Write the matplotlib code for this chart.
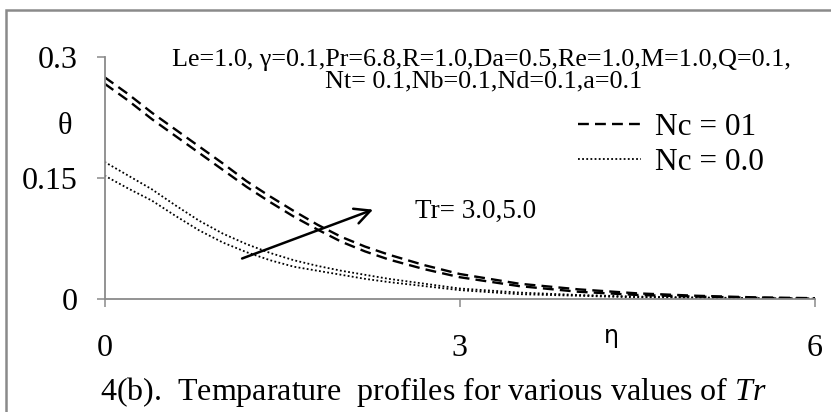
import matplotlib
matplotlib.use("Agg")
import matplotlib.pyplot as plt
from matplotlib.patches import Rectangle

plt.rcParams['font.family'] = ['Liberation Serif', 'DejaVu Serif']
plt.rcParams['mathtext.fontset'] = 'custom'
plt.rcParams['mathtext.rm'] = 'Liberation Serif'
plt.rcParams['mathtext.it'] = 'Liberation Serif:italic'

# data
eta = [0.0, 0.2, 0.4, 0.6, 0.8, 1.0, 1.2, 1.4, 1.6, 1.8, 2.0, 2.2, 2.4, 2.7, 3.0, 3.5, 4.0, 4.5, 5.0, 5.5, 6.0]
theta_nc1_tr5 = [0.275, 0.254, 0.231, 0.210, 0.189, 0.168, 0.146, 0.127, 0.109, 0.092, 0.077,
                 0.065, 0.055, 0.042, 0.031, 0.019, 0.012, 0.007, 0.004, 0.002, 0.001]
theta_nc1_tr3 = [0.267, 0.246, 0.223, 0.202, 0.181, 0.160, 0.139, 0.120, 0.102, 0.086, 0.071,
                 0.059, 0.049, 0.037, 0.027, 0.016, 0.009, 0.005, 0.003, 0.0015, 0.0005]
theta_nc0_tr5 = [0.170, 0.153, 0.136, 0.116, 0.097, 0.081, 0.068, 0.057, 0.048, 0.041, 0.035,
                 0.030, 0.025, 0.019, 0.013, 0.008, 0.005, 0.003, 0.002, 0.001, 0.0005]
theta_nc0_tr3 = [0.153, 0.137, 0.122, 0.103, 0.085, 0.070, 0.058, 0.048, 0.040, 0.035, 0.030,
                 0.025, 0.021, 0.016, 0.011, 0.006, 0.004, 0.002, 0.001, 0.0005, 0.0]

xticks = [0, 3, 6]
yticks = [0, 0.15, 0.3]
yticklabels = ['0', '0.15', '0.3']

W, H = 831, 412
fig = plt.figure(figsize=(W / 100, H / 100), dpi=100)
ax = fig.add_axes([104.5 / W, 1 - 299 / H, (815 - 104.5) / W, (299 - 57) / H])

gray = '#8a8a8a'
# outer border
fig.patches.append(Rectangle((6 / W, -0.2), 1.2, 1.2 - 10 / H, transform=fig.transFigure,
                             fill=False, edgecolor=gray, lw=1.8, clip_on=False))

l1, = ax.plot(eta, theta_nc1_tr5, color='black', lw=1.7, dashes=(4.6, 2.6), label='Nc = 01')
ax.plot(eta, theta_nc1_tr3, color='black', lw=1.7, dashes=(4.6, 2.6))
l2, = ax.plot(eta, theta_nc0_tr5, color='black', lw=1.3, dashes=(1, 1.3), label='Nc = 0.0')
ax.plot(eta, theta_nc0_tr3, color='black', lw=1.3, dashes=(1, 1.3))

ax.set_xlim(0, 6)
ax.set_ylim(0, 0.3)
ax.set_xticks(xticks)
ax.set_xticklabels([str(v) for v in xticks])
ax.set_yticks(yticks)
ax.set_yticklabels(yticklabels)
for s in ['top', 'right']:
    ax.spines[s].set_visible(False)
for s in ['left', 'bottom']:
    ax.spines[s].set_color(gray)
    ax.spines[s].set_linewidth(1.3)
ax.tick_params(direction='out', length=6, width=1.1, color=gray, labelsize=23)
ax.tick_params(axis='y', pad=13)
ax.tick_params(axis='x', pad=19)

ax.annotate('', xy=(2.29, 0.112), xytext=(1.14, 0.049),
            arrowprops=dict(arrowstyle='->', lw=1.8, color='black', mutation_scale=28))
ax.text(2.62, 0.109, 'Tr= 3.0,5.0', fontsize=19.5, va='center', ha='left')

fig.text(481 / W, 1 - 60 / H, 'Le=1.0, \u03b3=0.1,Pr=6.8,R=1.0,Da=0.5,Re=1.0,M=1.0,Q=0.1,',
         fontsize=18.8, ha='center', va='center')
fig.text(484 / W, 1 - 81 / H, 'Nt= 0.1,Nb=0.1,Nd=0.1,a=0.1',
         fontsize=18.8, ha='center', va='center')

fig.text(65 / W, 1 - 126 / H, '\u03b8', fontsize=22, ha='center', va='center')
fig.text(611 / W, 1 - 336 / H, '\u03b7', fontsize=17, ha='center', va='center',
         family=['DejaVu Sans'])

fig.text(100 / W, 1 - 392 / H,
         '4(b).  Temparature  profiles for various values of $\\mathit{Tr}$',
         fontsize=23, ha='left', va='center')

ax.legend(handles=[l1, l2], loc='upper left', bbox_to_anchor=(578 / W, 1 - 113 / H),
          bbox_transform=fig.transFigure, frameon=False, fontsize=22.5,
          handlelength=2.0, handletextpad=0.45, labelspacing=0.2,
          borderpad=0, borderaxespad=0)

fig.savefig('out.png', dpi=100)
